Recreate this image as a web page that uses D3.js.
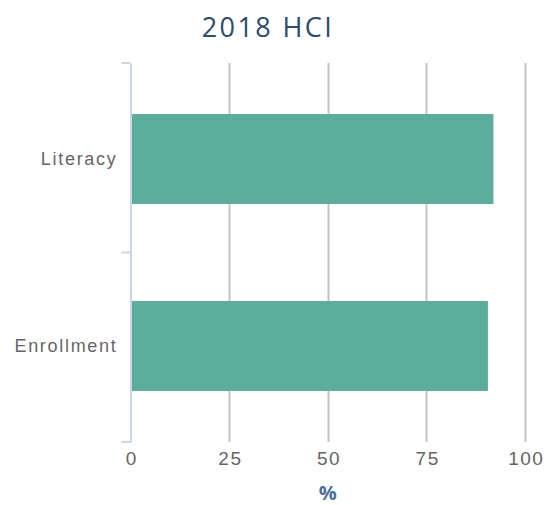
<!DOCTYPE html>
<html><head><meta charset="utf-8">
<script src="https://cdn.jsdelivr.net/npm/d3@7"></script>
<style>body{margin:0;background:#fff;} svg{display:block;font-family:"Open Sans",sans-serif;}</style>
</head><body><div id="chart"></div>
<script>
const categories = ["Literacy", "Enrollment"];
const values = [92.0, 90.6];
const xTicks = [0, 25, 50, 75, 100];
const title = "2018 HCI";
const xTitle = "%";

const W = 546, H = 505;
const m = {left: 130.5, right: 21, top: 63, bottom: 63};
const svg = d3.select("#chart").append("svg").attr("width", W).attr("height", H);

const x = d3.scaleLinear().domain([0, 100]).range([m.left, W - m.right]);
const y = d3.scaleBand().domain(categories).range([m.top, H - m.bottom]).paddingInner(0.519).paddingOuter(0.273);

// grid
svg.append("g").selectAll("line").data(xTicks.slice(1)).join("line")
  .attr("x1", d => Math.round(x(d)) + 0.5).attr("x2", d => Math.round(x(d)) + 0.5)
  .attr("y1", m.top).attr("y2", H - m.bottom)
  .attr("stroke", "#c4c4c4").attr("stroke-width", 2);

// bars
svg.append("g").selectAll("rect").data(categories).join("rect")
  .attr("x", x(0)).attr("y", d => y(d))
  .attr("width", (d, i) => x(values[i]) - x(0)).attr("height", y.bandwidth())
  .attr("fill", "#5bae9c");

// y axis
const yAxis = d3.axisLeft(y).tickSize(0).tickPadding(13);
const gy = svg.append("g").attr("transform", `translate(${m.left},0)`).call(yAxis);
gy.select(".domain").attr("stroke", "#ccd6eb").attr("stroke-width", 2);
gy.selectAll("text").attr("fill", "#666").attr("font-size", 18).attr("letter-spacing", "1.7px");
// category boundary ticks
const bounds = [m.top, (m.top + H - m.bottom) / 2, H - m.bottom];
svg.append("g").selectAll("line").data(bounds).join("line")
  .attr("x1", m.left - 9).attr("x2", m.left).attr("y1", d => d).attr("y2", d => d)
  .attr("stroke", "#ccd6eb").attr("stroke-width", 2);

// x axis labels
const xAxis = d3.axisBottom(x).tickValues(xTicks).tickSize(0).tickPadding(10);
const gx = svg.append("g").attr("transform", `translate(0,${H - m.bottom})`).call(xAxis);
gx.select(".domain").remove();
gx.selectAll("text").attr("fill", "#666").attr("font-size", 19).attr("letter-spacing", "1.5px").attr("dx", "0.75px");

// axis title
svg.append("text").attr("x", x(50)).attr("y", 500).attr("text-anchor", "middle")
  .attr("font-size", 20).attr("font-weight", "bold").attr("fill", "#4a6fa0").text(xTitle);

// title
svg.append("text").attr("x", 268).attr("y", 37).attr("text-anchor", "middle")
  .attr("font-size", 27).attr("letter-spacing", "2.4px").attr("fill", "#2b4d6d").text(title);
</script></body></html>
